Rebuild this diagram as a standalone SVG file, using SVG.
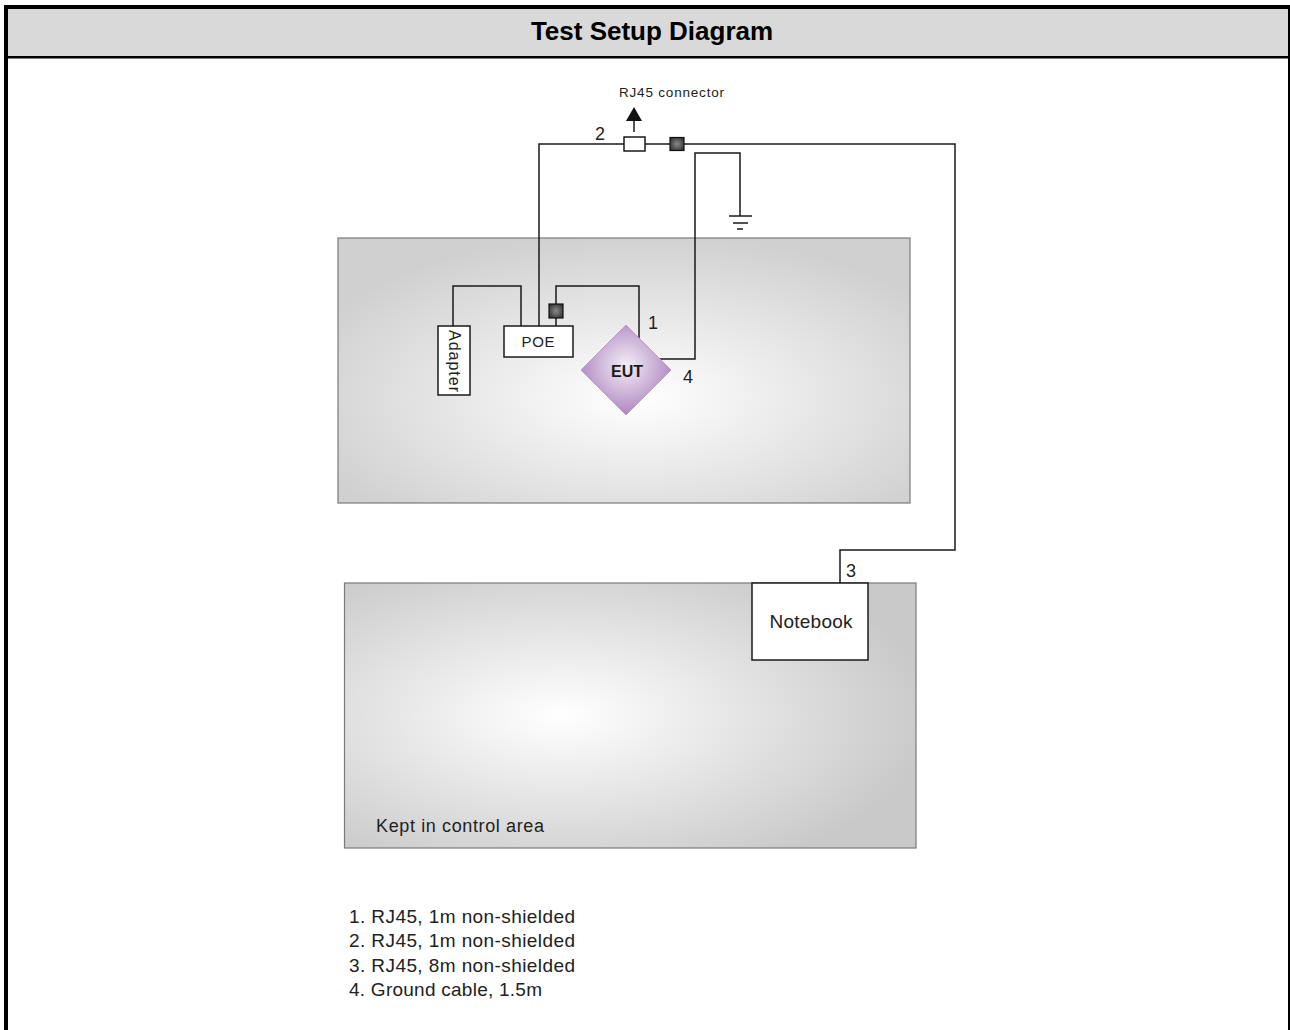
<svg xmlns="http://www.w3.org/2000/svg" width="1290" height="1030" viewBox="0 0 1290 1030">
<style>
.w{fill:none;stroke:#1a1a1a;stroke-width:1.5}
.t{font-family:"Liberation Sans",Arial,sans-serif;fill:#222}
.box{fill:#ffffff;stroke:#1a1a1a;stroke-width:1.5}
.area{stroke:#7a7a7a;stroke-width:1.2}
.sq{fill:url(#gSq);stroke:#111;stroke-width:1.2}
</style>
<defs>
<radialGradient id="gUp" cx="0.52" cy="0.6" r="0.62">
<stop offset="0" stop-color="#ffffff"/>
<stop offset="1" stop-color="#d0d0d0"/>
</radialGradient>
<radialGradient id="gLo" cx="0.38" cy="0.5" r="0.65">
<stop offset="0" stop-color="#ffffff"/>
<stop offset="1" stop-color="#c9c9c9"/>
</radialGradient>
<radialGradient id="gEut" cx="0.5" cy="0.45" r="0.6">
<stop offset="0" stop-color="#f4eef7"/>
<stop offset="1" stop-color="#a77cba"/>
</radialGradient>
<radialGradient id="gSq" cx="0.5" cy="0.5" r="0.6">
<stop offset="0" stop-color="#8a8a8a"/>
<stop offset="1" stop-color="#333333"/>
</radialGradient>
</defs>
<rect width="1290" height="1030" fill="#ffffff"/>
<!-- frame and header -->
<g id="frame">
<rect x="8" y="9" width="1280" height="47" fill="#d9d9d9"/>
<rect x="4" y="5" width="1286" height="4" fill="#000"/>
<rect x="4" y="5" width="4" height="1025" fill="#000"/>
<rect x="1288" y="5" width="2" height="1025" fill="#000"/>
<rect x="4" y="56" width="1286" height="2.5" fill="#000"/>
<text x="652" y="40" text-anchor="middle" font-family="'Liberation Sans',Arial,sans-serif" font-weight="bold" font-size="26" fill="#000">Test Setup Diagram</text>
</g>
<!-- areas -->
<g id="area-upper"><rect class="area" x="338" y="238" width="572" height="265" fill="url(#gUp)"/></g>
<g id="area-lower">
<rect class="area" x="344.5" y="583" width="571.5" height="265" fill="url(#gLo)"/>
<text class="t" x="376" y="832" font-size="18" textLength="168">Kept in control area</text>
</g>
<!-- connectors -->
<g id="connectors">
<path class="w" d="M539,326 V144 H624 M645,144 H670 M684,144 H955 V550 H840 V583"/>
<path class="w" d="M453,326 V286 H521 V326"/>
<path class="w" d="M556,326 V318 M556,304 V286 H639 V340"/>
<path class="w" d="M660,359 H695 V153 H740 V216"/>
<path class="w" d="M729,216 H752 M733,223 H748 M737,229 H743"/>
<path class="w" d="M634,132 V118"/>
<polygon points="626,121 642,121 634,107" fill="#111"/>
<text class="t" x="619" y="97" font-size="13.5" textLength="105">RJ45 connector</text>
<text class="t" x="595" y="140" font-size="18">2</text>
<text class="t" x="648" y="329" font-size="18">1</text>
<text class="t" x="846" y="577" font-size="18">3</text>
<text class="t" x="683" y="383" font-size="18">4</text>
</g>
<!-- nodes -->
<g id="rj45-connector"><rect class="box" x="624" y="137" width="21" height="14"/></g>
<g id="shield-top"><rect class="sq" x="670" y="137.5" width="14" height="13"/></g>
<g id="shield-poe"><rect class="sq" x="549" y="304" width="14" height="14"/></g>
<g id="adapter">
<rect class="box" x="438" y="326" width="32" height="69"/>
<text class="t" transform="translate(449,361) rotate(90)" text-anchor="middle" font-size="16" textLength="62">Adapter</text>
</g>
<g id="poe">
<rect class="box" x="504" y="326" width="69" height="31"/>
<text class="t" x="538" y="347" text-anchor="middle" font-size="15" textLength="33">POE</text>
</g>
<g id="eut">
<polygon points="626,325 671,370 626,415 581,370" fill="url(#gEut)" stroke="#b99ac8" stroke-width="1"/>
<text x="627" y="377" text-anchor="middle" font-family="'Liberation Sans',Arial,sans-serif" font-weight="bold" font-size="16" fill="#1a1a1a">EUT</text>
</g>
<g id="notebook">
<rect class="box" x="752" y="583" width="116" height="77"/>
<text class="t" x="811" y="628" text-anchor="middle" font-size="19" textLength="83">Notebook</text>
</g>
<!-- legend -->
<g id="legend" class="t" font-size="19" fill="#333">
<text x="349" y="923" textLength="226">1. RJ45, 1m non-shielded</text>
<text x="349" y="947" textLength="226">2. RJ45, 1m non-shielded</text>
<text x="349" y="972" textLength="226">3. RJ45, 8m non-shielded</text>
<text x="349" y="996" textLength="193">4. Ground cable, 1.5m</text>
</g>
</svg>
